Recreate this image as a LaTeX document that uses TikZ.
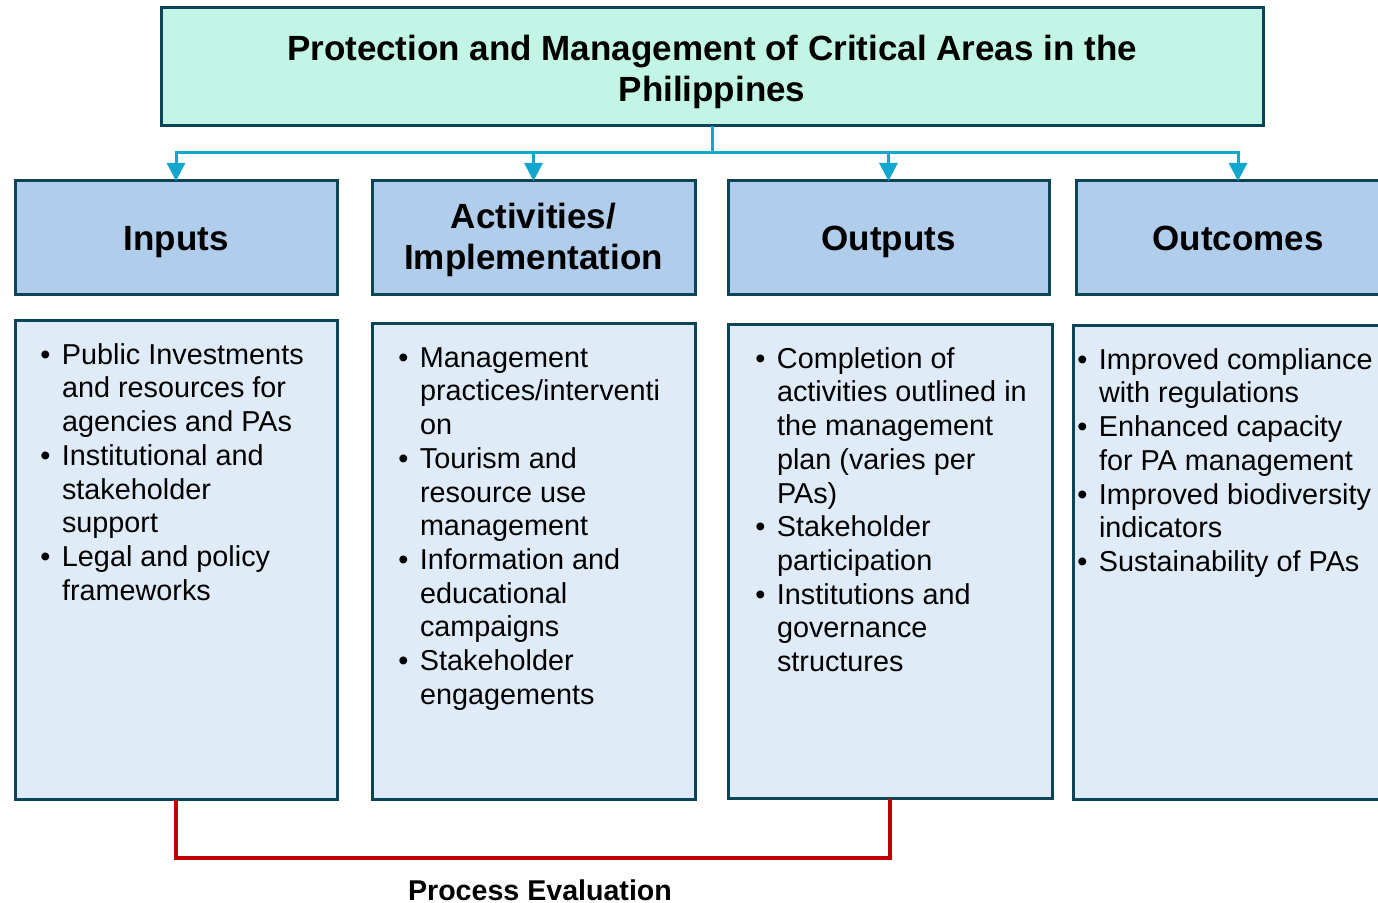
\documentclass[tikz,border=0pt]{standalone}
\usepackage{fontspec}
\setmainfont{Liberation Sans}
\usetikzlibrary{arrows.meta,calc}
\definecolor{titlefill}{HTML}{C3F5E6}
\definecolor{bordercol}{HTML}{0D4457}
\definecolor{headfill}{HTML}{B1CDEC}
\definecolor{bodyfill}{HTML}{DFEBF7}
\definecolor{conncol}{HTML}{13A7CF}
\definecolor{evalred}{HTML}{C00000}
\newcommand{\bulx}{\makebox[10.8pt][l]{\textbullet}}
\newcommand{\indx}{\hspace*{10.8pt}}
\tikzset{
  box/.style={draw=bordercol, line width=1.5pt, rectangle, anchor=north west, inner sep=0pt, outer sep=0pt},
  titlebox/.style={box, fill=titlefill, minimum width=551pt, minimum height=59pt},
  headbox/.style={box, fill=headfill, minimum height=57pt},
  bodybox/.style={box, fill=bodyfill},
  headtext/.style={font=\fontsize{17.5}{20.5}\selectfont\bfseries, align=center, inner sep=0pt},
  headone/.style={headtext, anchor=base, yshift=-6.25pt},
  bodytext/.style={anchor=north west, inner sep=0pt, align=left, font=\fontsize{14.4}{16.85}\selectfont},
  conn/.style={draw=conncol, line width=1.5pt},
  connarrow/.style={conn, -{Triangle[width=9pt,length=9pt]}},
  evalline/.style={draw=evalred, line width=1.6pt},
}
\begin{document}
\begin{tikzpicture}[x=0.5pt,y=-0.5pt]
\useasboundingbox (0,0) rectangle (1378,903);
\clip (0,0) rectangle (1378,903);
% title
\node[titlebox] (title) at (161,8) {};
\node[headtext] (titletxt) at (712,71.5) {Protection and Management of Critical Areas in the\\Philippines};
% header boxes
\node[headbox, minimum width=161pt] (hin) at (15,181) {};
\node[headbox, minimum width=161.5pt] (hact) at (372,181) {};
\node[headbox, minimum width=160.5pt] (hout) at (728,181) {};
\node[headbox, minimum width=162pt] (hoc) at (1076,181) {};
\node[headone] (hintxt) at (hin.center) {Inputs};
\node[headtext, yshift=-1pt] (hacttxt) at (hact.center) {Activities/\\Implementation};
\node[headone] (houttxt) at (hout.center) {Outputs};
\node[headone] (hoctxt) at (hoc.center) {Outcomes};
% body boxes
\node[bodybox, minimum width=161pt, minimum height=239.5pt] (bin) at (15,321) {};
\node[bodybox, minimum width=161.5pt, minimum height=238pt] (bact) at (372,324) {};
\node[bodybox, minimum width=162pt, minimum height=237pt] (bout) at (728,325) {};
\node[bodybox, minimum width=162pt, minimum height=237pt] (boc) at (1073,326) {};
% body texts
\node[bodytext] (tin) at (40,343) {\bulx Public Investments\\\indx and resources for\\\indx agencies and PAs\\\bulx Institutional and\\\indx stakeholder\\\indx support\\\bulx Legal and policy\\\indx frameworks};
\node[bodytext] (tact) at (398,347) {\bulx Management\\\indx practices/interventi\\\indx on\\\bulx Tourism and\\\indx resource use\\\indx management\\\bulx Information and\\\indx educational\\\indx campaigns\\\bulx Stakeholder\\\indx engagements};
\node[bodytext] (tout) at (755,347) {\bulx Completion of\\\indx activities outlined in\\\indx the management\\\indx plan (varies per\\\indx PAs)\\\bulx Stakeholder\\\indx participation\\\bulx Institutions and\\\indx governance\\\indx structures};
\node[bodytext] (toc) at (1077,348) {\bulx Improved compliance\\\indx with regulations\\\bulx Enhanced capacity\\\indx for PA management\\\bulx Improved biodiversity\\\indx indicators\\\bulx Sustainability of PAs};
% connectors
\coordinate (bus) at ($(title.south)+(0,27)$);
\draw[conn] (title.south) -- (bus);
\draw[connarrow] (bus) -| (hin.north);
\draw[connarrow] (bus) -| (hact.north);
\draw[connarrow] (bus) -| (hout.north);
\draw[connarrow] (bus) -| (hoc.north);
% process evaluation
\draw[evalline] (bin.south) -- ++(0,58) -| (bout.south);
\node[font=\fontsize{14.3}{16}\selectfont\bfseries, inner sep=0pt] (evtxt) at (540,890) {Process Evaluation};
\end{tikzpicture}
\end{document}
